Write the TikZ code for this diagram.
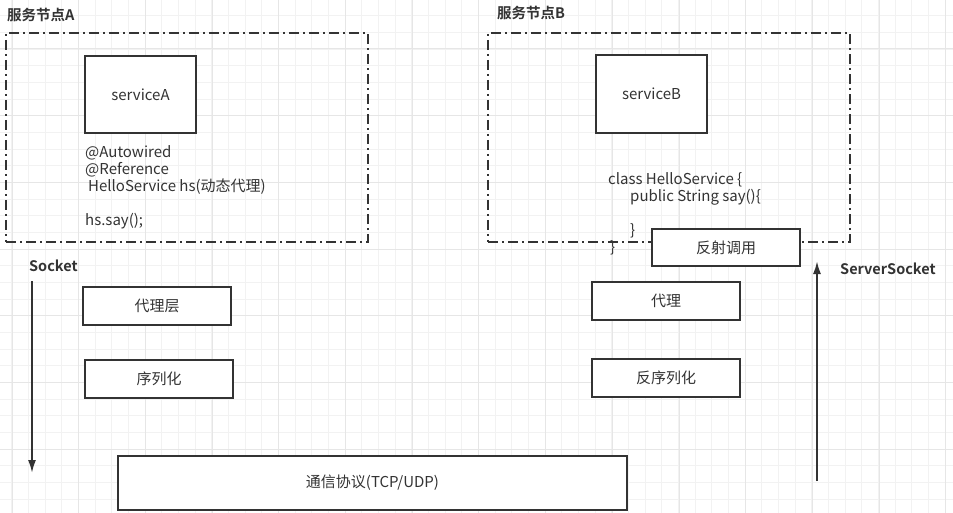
\documentclass[tikz,border=0pt]{standalone}
\usepackage{fontspec}
\setmainfont{Noto Sans CJK SC}[BoldFont={Noto Sans CJK SC Bold}]
\usetikzlibrary{arrows.meta}
\definecolor{inkgray}{HTML}{333333}
\definecolor{gridminor}{HTML}{F2F2F2}
\definecolor{gridmajor}{HTML}{E6E6E6}

\tikzset{
  layerbox/.style={draw=inkgray, line width=2pt, fill=white, text=inkgray,
    font=\fontsize{15}{17}\selectfont, minimum width=148pt, minimum height=38pt, inner sep=0pt},
  nodeframe/.style={draw=inkgray, line width=2pt, dash pattern=on 10pt off 4pt on 2pt off 4pt, inner sep=0pt},
  codetext/.style={text=inkgray, font=\fontsize{15}{17}\selectfont, align=left, inner sep=0pt},
  nodetitle/.style={text=inkgray, font=\fontsize{14.5}{16}\selectfont\bfseries, inner sep=0pt},
  flow/.style={draw=inkgray, line width=2pt, -{Latex[length=13pt,width=8pt]}},
}

\begin{document}
\begin{tikzpicture}[x=1pt,y=-1pt]
  \useasboundingbox (0,0) rectangle (953,513);

  % background grid
  \foreach \i in {0,...,57} \draw[gridminor, line width=1pt] ({11.7+16.67*\i},0) -- ++(0,513);
  \foreach \j in {0,...,31} \draw[gridminor, line width=1pt] (0,{-1+16.67*\j}) -- ++(953,0);
  \foreach \i in {0,...,14} \draw[gridmajor, line width=1pt] ({12.3+66.67*\i},0) -- ++(0,513);
  \foreach \j in {0,...,7} \draw[gridmajor, line width=1pt] (0,{49+66.67*\j}) -- ++(953,0);

  % service node A
  \node[nodetitle, anchor=west] (titleA) at (7,15) {服务节点A};
  \node[nodeframe, minimum width=362pt, minimum height=209pt] (frameA) at (187,137.5) {};
  \node[layerbox, minimum width=111pt, minimum height=77pt] (serviceA) at (140.5,94.5) {serviceA};
  \node[codetext, anchor=north west] (codeA) at (85,145)
    {@Autowired\\@Reference\\\hspace*{3pt}HelloService hs(动态代理)\\[17pt]hs.say();};

  % service node B
  \node[nodetitle, anchor=west] (titleB) at (497,13) {服务节点B};
  \node[nodeframe, minimum width=362pt, minimum height=209pt] (frameB) at (669,137.5) {};
  \node[layerbox, minimum width=111pt, minimum height=78pt] (serviceB) at (651.5,94) {serviceB};
  \node[codetext, anchor=north west] (codeB) at (608,172)
    {class HelloService \{\\\hspace*{22pt}public String say()\{\\[17pt]\hspace*{22pt}\}\\\hspace*{2pt}\}};
  \node[layerbox, minimum height=37pt] (reflectB) at (726,247.5) {反射调用};

  % client side
  \node[nodetitle, anchor=west] (socketA) at (29,266) {Socket};
  \node[layerbox] (proxyA) at (157,305.5) {代理层};
  \node[layerbox] (serialA) at (159,379) {序列化};
  \coordinate (sendTop) at (32,281);
  \coordinate (sendEnd) at (32,473);
  \draw[flow] (sendTop) -- (sendEnd);

  % server side
  \node[nodetitle, anchor=west] (socketB) at (840,269) {ServerSocket};
  \node[layerbox] (proxyB) at (666,301) {代理};
  \node[layerbox] (deserialB) at (666,378) {反序列化};
  \coordinate (recvStart) at (817,481);
  \coordinate (recvEnd) at (817,261);
  \draw[flow] (recvStart) -- (recvEnd);

  % transport
  \node[layerbox, minimum width=509pt, minimum height=54pt] (protocol) at (372.5,483) {通信协议(TCP/UDP)};
\end{tikzpicture}
\end{document}
